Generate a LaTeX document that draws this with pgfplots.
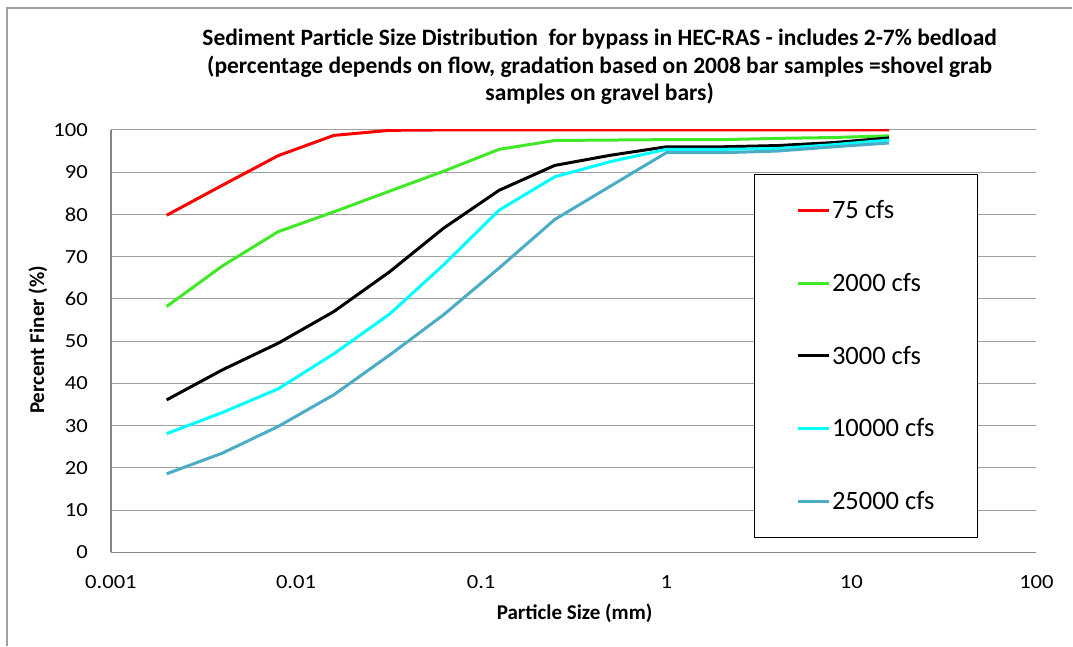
\documentclass[border=0pt]{standalone}
\usepackage{pgfplots}
\pgfplotsset{compat=1.18}
\usepackage{fontspec}
\setmainfont{Carlito}
\newfontfamily\tickfont{Carlito}[FakeStretch=1.13]
\definecolor{cRed}{RGB}{255,0,0}
\definecolor{cGreen}{RGB}{64,232,40}
\definecolor{cCyan}{RGB}{0,255,255}
\definecolor{cTeal}{RGB}{75,172,198}
\definecolor{gridc}{RGB}{160,160,160}
\definecolor{axc}{RGB}{134,134,134}
\begin{document}
\begin{tikzpicture}[x=1pt,y=1pt]
\path (0,0) rectangle (1073,646);
\draw[gridc, line width=1.2pt] (7,0) -- (7,638) -- (1073,638);
\node[align=center, font=\bfseries\fontsize{23.5}{27.5}\selectfont] at (600,579)
  {Sediment Particle Size Distribution\ \ for bypass in HEC-RAS - includes 2-7\% bedload\\
   (percentage depends on flow, gradation based on 2008 bar samples =shovel grab\\
   samples on gravel bars)};
\begin{axis}[
  at={(111pt,93.3pt)}, anchor=south west,
  width=926pt, height=422.7pt, scale only axis,
  xmode=log, xmin=0.001, xmax=100,
  ymin=0, ymax=100,
  xtick={0.001,0.01,0.1,1,10,100},
  xticklabels={0.001,0.01,0.1,1,10,100},
  ytick={0,10,...,100},
  xminorticks=false, yminorticks=false,
  major tick length=0pt, minor tick length=0pt,
  /pgf/number format/assume math mode=true,
  tick label style={font=\tickfont\fontsize{20}{24}\selectfont},
  xticklabel style={anchor=base, inner sep=0pt, yshift=-36pt},
  yticklabel style={anchor=east, inner sep=0pt, xshift=-23pt},
  axis x line*=bottom, axis y line*=left,
  axis line style={axc, line width=1.5pt, -},
  ymajorgrids, grid style={gridc, line width=1.1pt},
  xlabel={Particle Size (mm)},
  ylabel={Percent Finer (\%)},
  every axis x label/.style={at={(axis description cs:0.501,-0.145)}, anchor=center, font=\bfseries\fontsize{21}{24}\selectfont},
  every axis y label/.style={at={(axis description cs:-0.079,0.503)}, anchor=center, rotate=90, font=\bfseries\fontsize{21}{24}\selectfont},
  legend style={at={(0.695,0.896)}, anchor=north west, draw=black, line width=0.8pt,
    inner xsep=42pt, inner ysep=0pt,
    font=\fontsize{26.5}{30}\selectfont,
    nodes={inner xsep=1.5pt, inner ysep=0pt, minimum height=72.7pt},
    row sep=0pt, column sep=0pt},
  legend cell align=left,
  legend image code/.code={\draw[#1, line width=3pt] (0pt,0pt) -- (31pt,0pt);},
  every axis plot/.append style={line width=3pt, mark=none},
]
\addplot[cRed] coordinates {(0.002,79.8)(0.004,86.9)(0.008,93.9)(0.016,98.7)(0.032,99.9)(0.0625,100)(0.125,100)(0.25,100)(0.5,100)(1,100)(2,100)(4,100)(8,100)(16,100)};
\addlegendentry{75 cfs}
\addplot[cGreen] coordinates {(0.002,58.2)(0.004,67.8)(0.008,75.9)(0.016,80.6)(0.032,85.5)(0.0625,90.2)(0.125,95.4)(0.25,97.5)(0.5,97.6)(1,97.7)(2,97.7)(4,98.0)(8,98.2)(16,98.6)};
\addlegendentry{2000 cfs}
\addplot[black] coordinates {(0.002,36.1)(0.004,43.2)(0.008,49.5)(0.016,57.0)(0.032,66.4)(0.0625,76.7)(0.125,85.7)(0.25,91.6)(0.5,94.0)(1,96.0)(2,96.0)(4,96.3)(8,97.0)(16,98.1)};
\addlegendentry{3000 cfs}
\addplot[cCyan] coordinates {(0.002,28.1)(0.004,33.1)(0.008,38.7)(0.016,47.0)(0.032,56.4)(0.0625,68.0)(0.125,81.0)(0.25,88.9)(0.5,92.5)(1,95.4)(2,95.4)(4,95.6)(8,96.5)(16,97.6)};
\addlegendentry{10000 cfs}
\addplot[cTeal] coordinates {(0.002,18.6)(0.004,23.5)(0.008,29.8)(0.016,37.3)(0.032,46.7)(0.0625,56.2)(0.125,67.3)(0.25,78.8)(0.5,86.7)(1,94.6)(2,94.6)(4,95.0)(8,96.0)(16,96.9)};
\addlegendentry{25000 cfs}
\end{axis}
\end{tikzpicture}
\end{document}
